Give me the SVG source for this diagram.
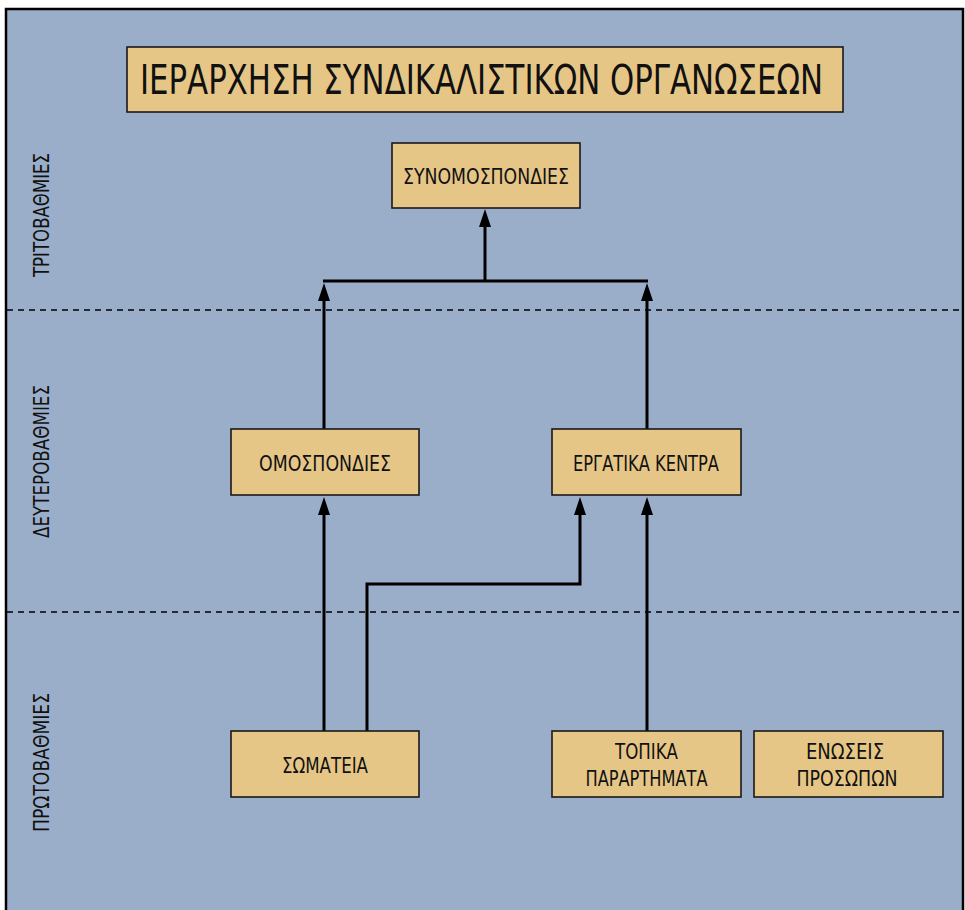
<svg xmlns="http://www.w3.org/2000/svg" width="965" height="910" viewBox="0 0 965 910">
<style>
.box{fill:#e6c687;stroke:#1a1a1a;stroke-width:1.6}
.t{font-family:'Liberation Sans Narrow','DejaVu Sans Condensed','DejaVu Sans',sans-serif;font-stretch:condensed;fill:#111;text-anchor:middle;font-size:21.5px}
.side{font-size:22px}
.ttl{font-size:40px}
.c{fill:none;stroke:#000;stroke-width:3}
.dash{stroke:#000;stroke-width:1.3;stroke-dasharray:6 5}
</style>
<defs>
<marker id="ah" viewBox="0 0 18 12" refX="1" refY="6" markerWidth="18" markerHeight="12" markerUnits="userSpaceOnUse" orient="auto">
<path d="M0,0 L18,6 L0,12 z" fill="#000"/>
</marker>
</defs>
<rect x="0" y="0" width="965" height="910" fill="#fff"/>
<rect x="6" y="9" width="957" height="920" fill="#9aaec9" stroke="#000" stroke-width="2.5"/>
<g id="levels">
<line class="dash" x1="7" y1="310" x2="962" y2="310"/>
<line class="dash" x1="7" y1="612" x2="962" y2="612"/>
<text class="t side" transform="translate(49,215) rotate(-90)" textLength="124" lengthAdjust="spacingAndGlyphs">ΤΡΙΤΟΒΑΘΜΙΕΣ</text>
<text class="t side" transform="translate(49,461.5) rotate(-90)" textLength="153" lengthAdjust="spacingAndGlyphs">ΔΕΥΤΕΡΟΒΑΘΜΙΕΣ</text>
<text class="t side" transform="translate(49,762.5) rotate(-90)" textLength="139" lengthAdjust="spacingAndGlyphs">ΠΡΩΤΟΒΑΘΜΙΕΣ</text>
</g>
<g id="title">
<rect class="box" x="127" y="47" width="716" height="65"/>
<text class="t ttl" x="481.5" y="94" textLength="683" lengthAdjust="spacingAndGlyphs">ΙΕΡΑΡΧΗΣΗ ΣΥΝΔΙΚΑΛΙΣΤΙΚΩΝ ΟΡΓΑΝΩΣΕΩΝ</text>
</g>
<g id="connectors">
<path class="c" d="M323,281 L648,281"/>
<path class="c" d="M485,281 L485,226" marker-end="url(#ah)"/>
<path class="c" d="M324,429 L324,300" marker-end="url(#ah)"/>
<path class="c" d="M647,429 L647,300" marker-end="url(#ah)"/>
<path class="c" d="M324,731 L324,514" marker-end="url(#ah)"/>
<path class="c" d="M367,731 L367,584 L580,584 L580,514" marker-end="url(#ah)"/>
<path class="c" d="M647,731 L647,514" marker-end="url(#ah)"/>
</g>
<g id="synomospondies">
<rect class="box" x="392" y="143" width="188" height="65"/>
<text class="t" x="486" y="183.5" textLength="166" lengthAdjust="spacingAndGlyphs">ΣΥΝΟΜΟΣΠΟΝΔΙΕΣ</text>
</g>
<g id="omospondies">
<rect class="box" x="231" y="429" width="188" height="66"/>
<text class="t" x="325" y="470.5" textLength="132" lengthAdjust="spacingAndGlyphs">ΟΜΟΣΠΟΝΔΙΕΣ</text>
</g>
<g id="ergatika-kentra">
<rect class="box" x="552" y="429" width="189" height="66"/>
<text class="t" x="646" y="471" textLength="146" lengthAdjust="spacingAndGlyphs">ΕΡΓΑΤΙΚΑ ΚΕΝΤΡΑ</text>
</g>
<g id="somateia">
<rect class="box" x="231" y="731" width="188" height="66"/>
<text class="t" x="325" y="772.5" textLength="86" lengthAdjust="spacingAndGlyphs">ΣΩΜΑΤΕΙΑ</text>
</g>
<g id="topika">
<rect class="box" x="552" y="731" width="189" height="66"/>
<text class="t" x="646.5" y="758.5" textLength="63" lengthAdjust="spacingAndGlyphs">ΤΟΠΙΚΑ</text>
<text class="t" x="646.5" y="785.5" textLength="122" lengthAdjust="spacingAndGlyphs">ΠΑΡΑΡΤΗΜΑΤΑ</text>
</g>
<g id="enoseis">
<rect class="box" x="754" y="731" width="189" height="66"/>
<text class="t" x="845" y="758.5" textLength="78" lengthAdjust="spacingAndGlyphs">ΕΝΩΣΕΙΣ</text>
<text class="t" x="847" y="785.5" textLength="101" lengthAdjust="spacingAndGlyphs">ΠΡΟΣΩΠΩΝ</text>
</g>
</svg>
